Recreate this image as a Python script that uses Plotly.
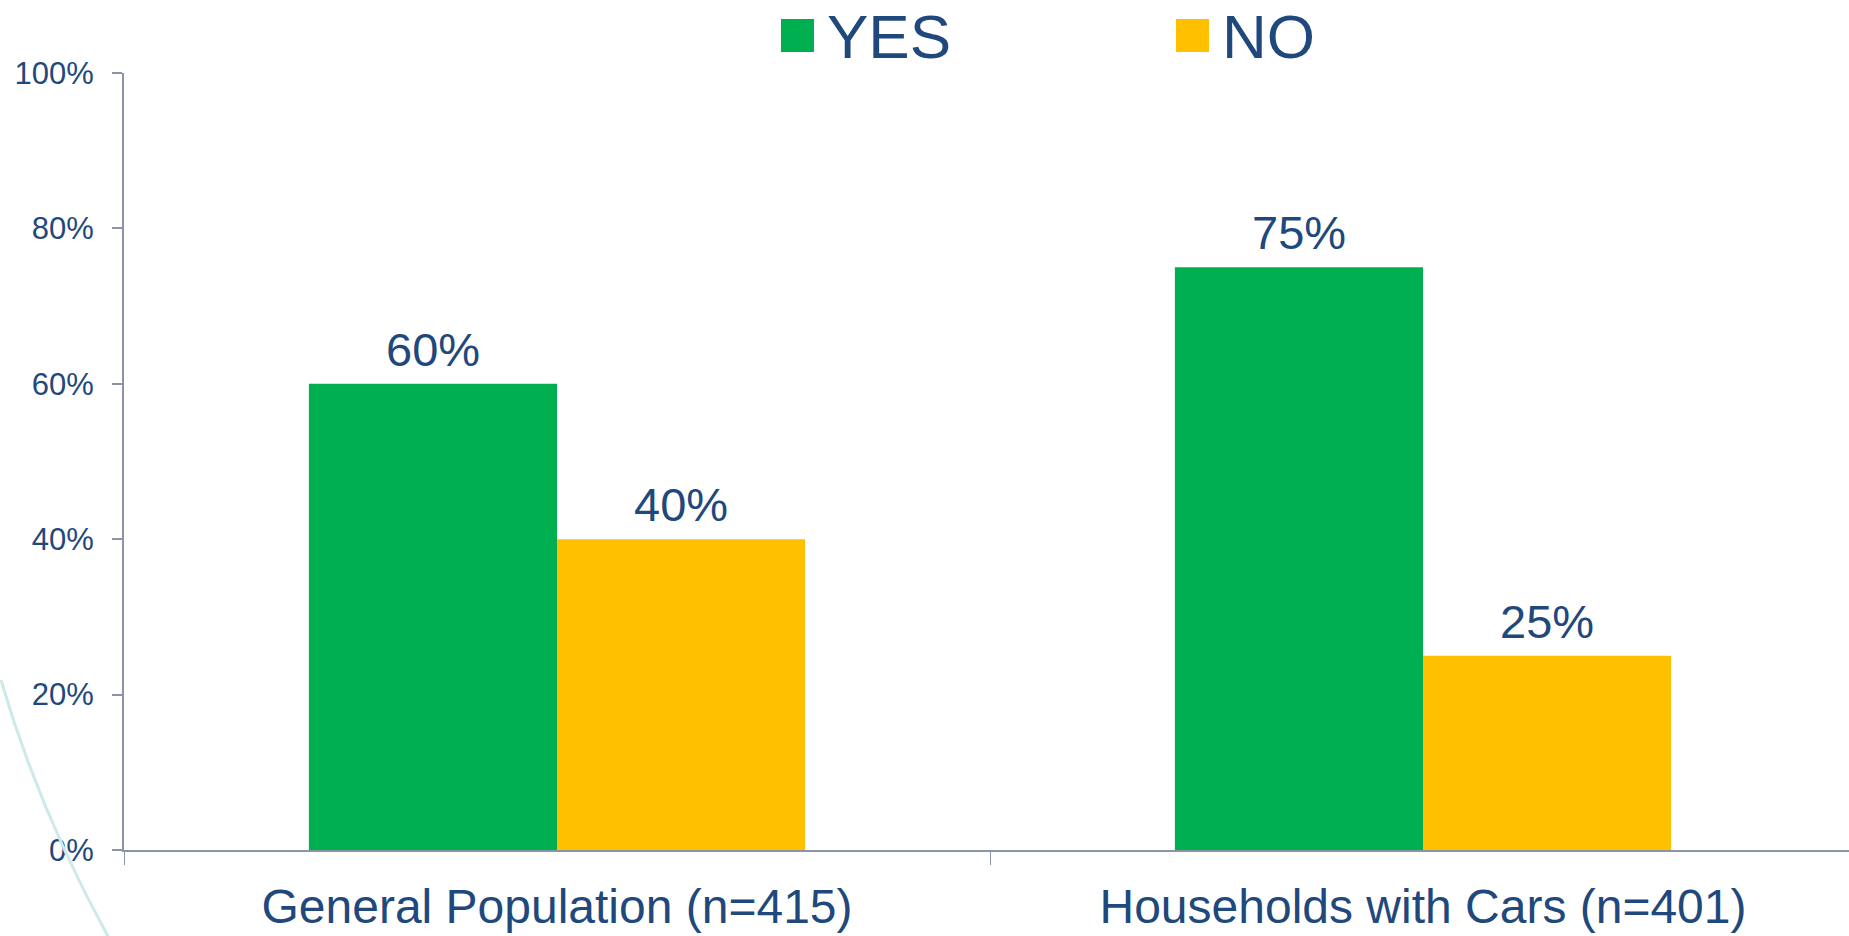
import plotly.graph_objects as go

categories = ["General Population (n=415)", "Households with Cars (n=401)"]
series_names = ["YES", "NO"]
yes_values = [0.60, 0.75]
no_values = [0.40, 0.25]
series_values = [yes_values, no_values]
series_colors = ["#00B050", "#FFC000"]
y_ticks = [0, 0.2, 0.4, 0.6, 0.8, 1.0]

TEXT = "#1F497D"
AXIS = "#8A94A6"
FONT = "Liberation Sans, Arial, sans-serif"

W, H = 1849, 936
L, T, B, R = 124, 73, 86, 0
pw, ph = W - L - R, H - T - B
cat_px = (1856 - L) / 2  # pixel width of a category
bar_px = 248  # pixel width of a bar (for label offsets)

def px(x):
    return (x - L) / pw

def py(y):
    return (H - B - y) / ph

fig = go.Figure()
annotations = []
n = len(series_names)
for k, (name, vals, col) in enumerate(zip(series_names, series_values, series_colors)):
    fig.add_trace(go.Bar(
        x=categories, y=vals, name=name, marker_color=col,
        marker_line_width=0, showlegend=False,
    ))
    shift = (k - (n - 1) / 2) * bar_px
    for c, v in zip(categories, vals):
        annotations.append(dict(
            xref="x", yref="y", x=c, y=v, xshift=shift, yshift=6,
            xanchor="center", yanchor="bottom", text=f"{v:.0%}", showarrow=False,
            font=dict(size=47, color=TEXT, family=FONT)))

shapes = []
# manual legend (large squares)
leg_sq_x = [781, 1176]
for i, (name, col) in enumerate(zip(series_names, series_colors)):
    x0 = leg_sq_x[i]
    shapes.append(dict(type="rect", xref="paper", yref="paper",
                       x0=px(x0), x1=px(x0 + 33), y0=py(52), y1=py(19),
                       fillcolor=col, line_width=0))
    annotations.append(dict(xref="paper", yref="paper", x=px(x0 + 44), y=py(0),
                            xanchor="left", yanchor="top", text=name, showarrow=False,
                            font=dict(size=62, color=TEXT, family=FONT)))

# decorative curve at lower left
shapes.append(dict(type="path", xref="paper", yref="paper",
                   path=f"M {px(1)},{py(680)} Q {px(39)},{py(811)} {px(110)},{py(940)}",
                   line=dict(color="#CDE9E9", width=3), layer="above"))

fig.update_layout(
    width=W, height=H,
    margin=dict(l=L, r=R, t=T, b=B, pad=0),
    paper_bgcolor="white", plot_bgcolor="white",
    barmode="group", bargap=0.427, bargroupgap=0,
    shapes=shapes, annotations=annotations,
    font=dict(family=FONT, color=TEXT),
    xaxis=dict(
        type="category", range=[-0.5, -0.5 + pw / cat_px],
        showline=True, linecolor=AXIS, linewidth=2,
        ticks="outside", tickson="boundaries", ticklen=13, tickwidth=1, tickcolor=AXIS,
        tickfont=dict(size=48, color=TEXT, family=FONT),
        ticklabelstandoff=13, automargin=False,
        showgrid=False, zeroline=False,
    ),
    yaxis=dict(
        range=[0, 1], tickvals=y_ticks, tickformat=".0%",
        showline=True, linecolor=AXIS, linewidth=2,
        ticks="outside", ticklen=10, tickwidth=2, tickcolor=AXIS,
        tickfont=dict(size=31, color=TEXT, family=FONT),
        ticklabelstandoff=12, automargin=False,
        showgrid=False, zeroline=False,
    ),
)

fig.write_html("out.html", config={"displayModeBar": False},
               post_script="document.body.style.margin='0';document.body.style.overflow='hidden';")
